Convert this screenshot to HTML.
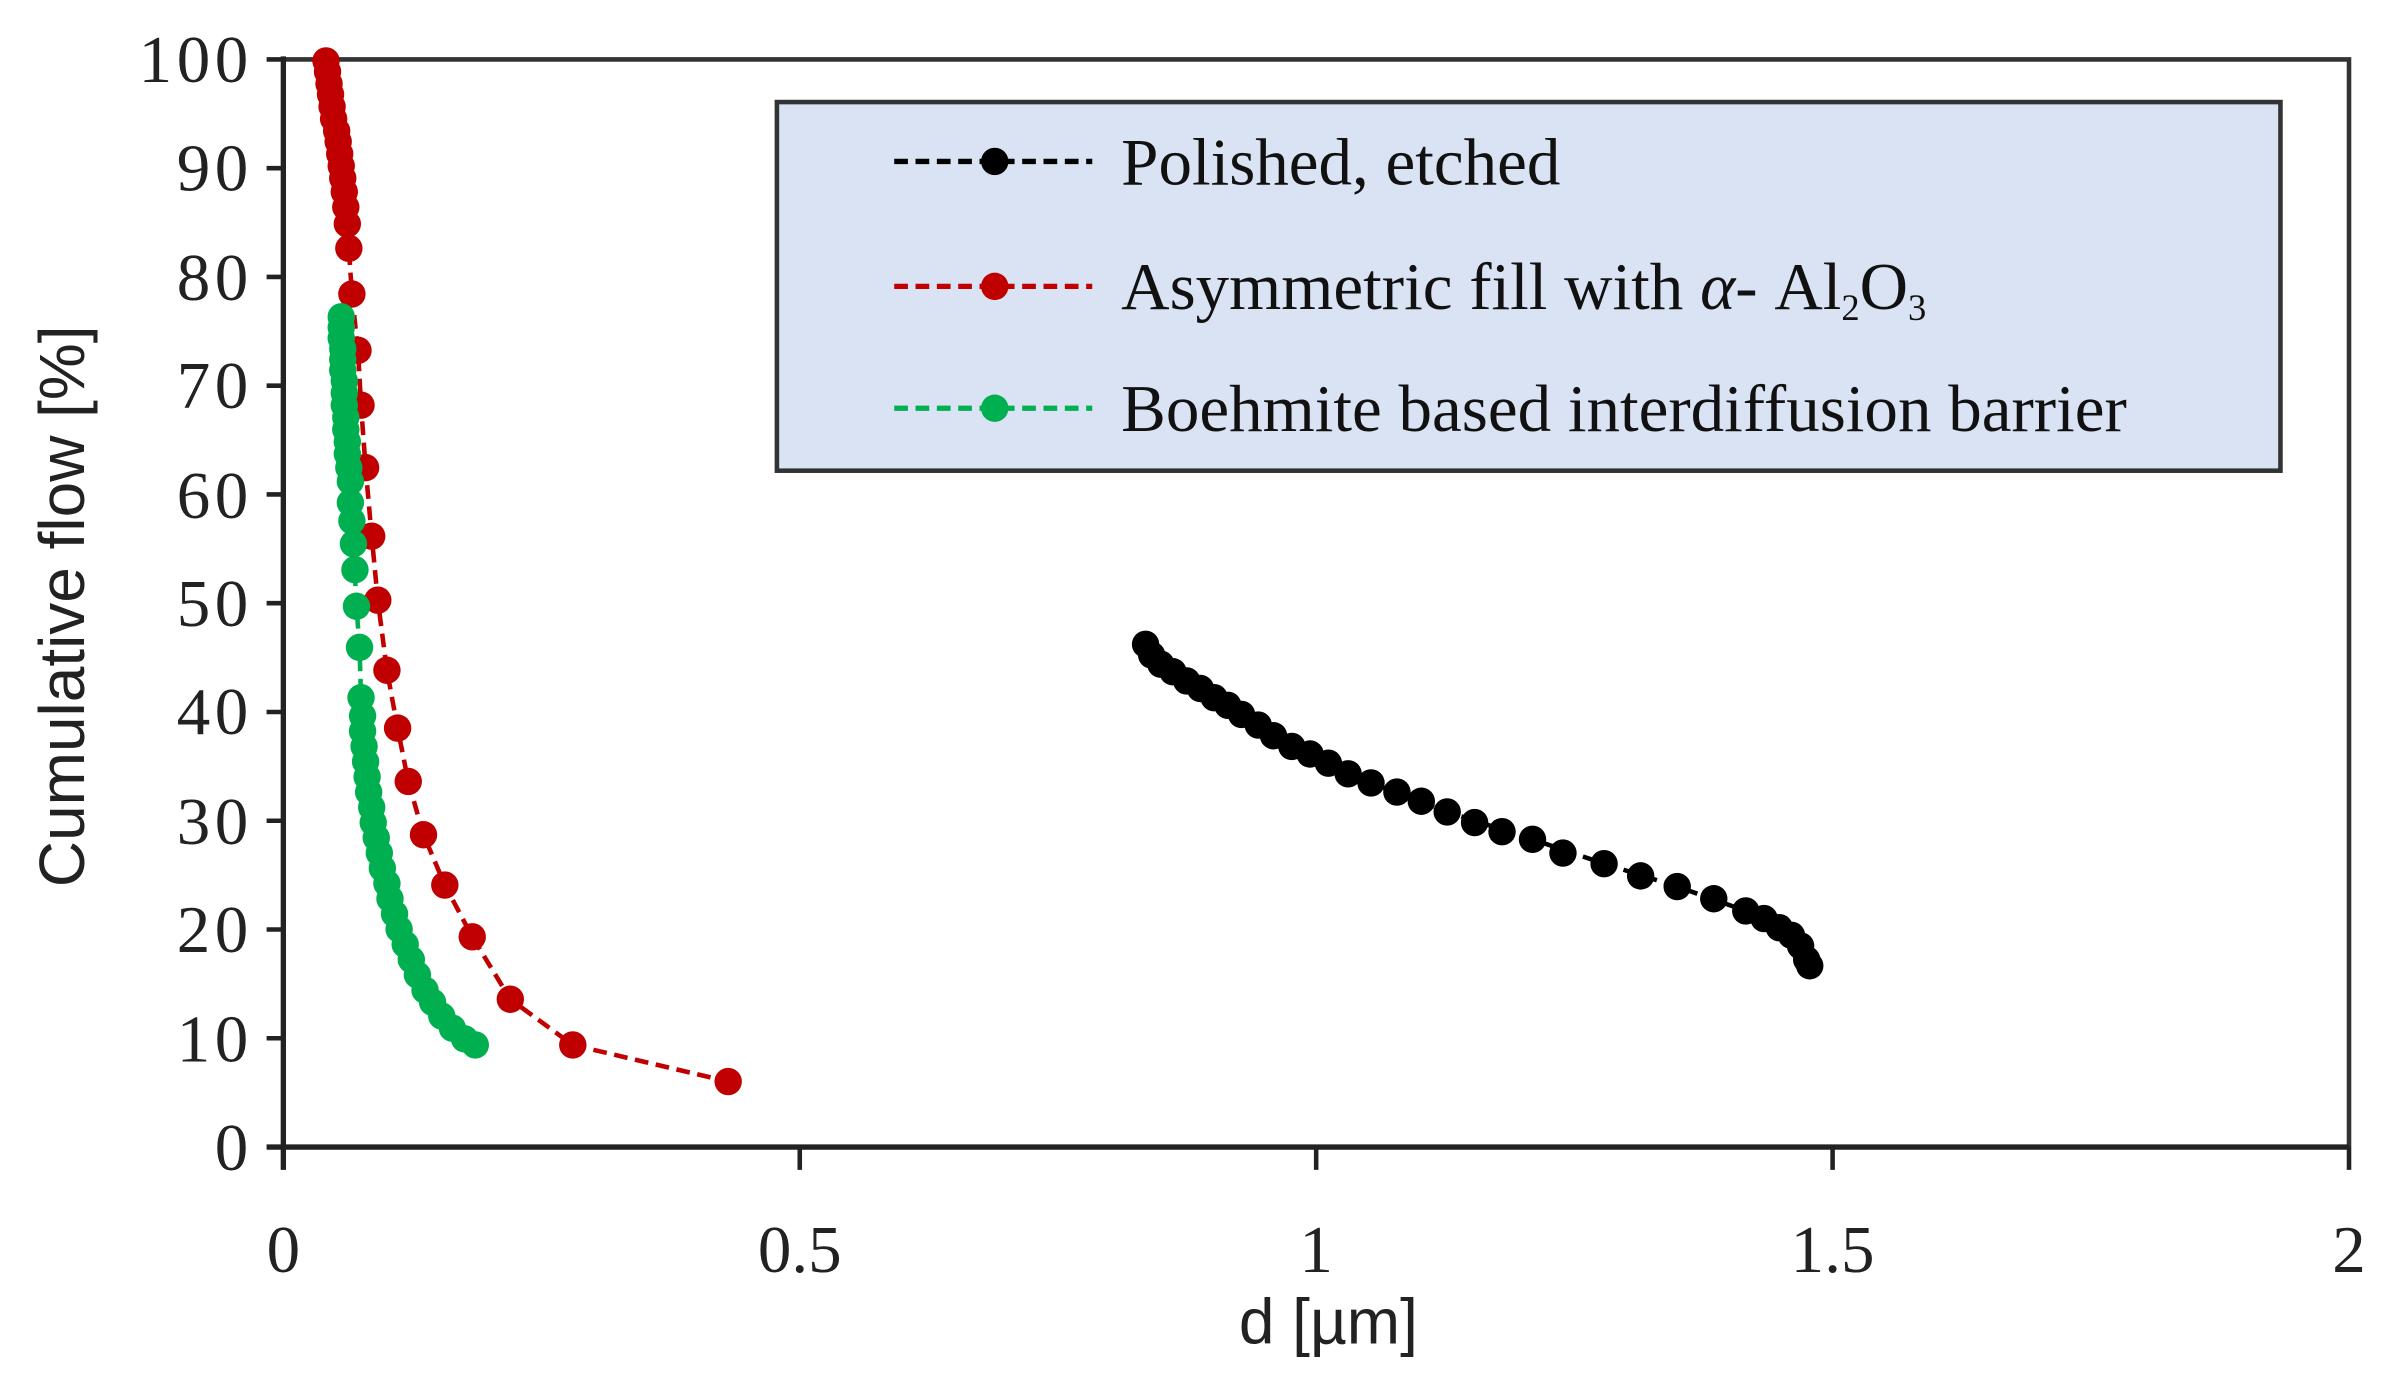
<!DOCTYPE html>
<html><head><style>
html,body{margin:0;padding:0;background:#fff;width:2381px;height:1381px;overflow:hidden}
svg{display:block}
.tk{font-family:"Liberation Serif",serif;font-size:44px;fill:#222}
.lg{font-family:"Liberation Serif",serif;font-size:44px;fill:#111}
.ax{font-family:"Liberation Sans",sans-serif;font-size:42px;fill:#222}
</style></head><body>
<svg width="2381" height="1381" viewBox="0 0 1563 906.6" preserveAspectRatio="none">
<rect x="0" y="0" width="1563" height="907" fill="#fff"/>
<path d="M186 39 H1542 V753" fill="none" stroke="#333" stroke-width="3"/>
<path d="M186 37 V768 M175 753 H1542" fill="none" stroke="#222" stroke-width="3.5"/>
<g stroke="#222" stroke-width="3">
<line x1="175" y1="39" x2="186" y2="39"/><line x1="175" y1="110.4" x2="186" y2="110.4"/>
<line x1="175" y1="181.8" x2="186" y2="181.8"/><line x1="175" y1="253.2" x2="186" y2="253.2"/>
<line x1="175" y1="324.6" x2="186" y2="324.6"/><line x1="175" y1="396" x2="186" y2="396"/>
<line x1="175" y1="467.4" x2="186" y2="467.4"/><line x1="175" y1="538.8" x2="186" y2="538.8"/>
<line x1="175" y1="610.2" x2="186" y2="610.2"/><line x1="175" y1="681.6" x2="186" y2="681.6"/>
<line x1="525" y1="753" x2="525" y2="768"/><line x1="864" y1="753" x2="864" y2="768"/>
<line x1="1203" y1="753" x2="1203" y2="768"/><line x1="1542" y1="753" x2="1542" y2="768"/>
</g>
<g class="tk" text-anchor="end" letter-spacing="3">
<text x="166" y="54">100</text><text x="166" y="125">90</text><text x="166" y="197">80</text>
<text x="166" y="268">70</text><text x="166" y="340">60</text><text x="166" y="411">50</text>
<text x="166" y="482">40</text><text x="166" y="554">30</text><text x="166" y="625">20</text>
<text x="166" y="697">10</text><text x="166" y="768">0</text>
</g>
<g class="tk" text-anchor="middle">
<text x="186" y="835">0</text><text x="525" y="835">0.5</text><text x="864" y="835">1</text>
<text x="1203" y="835">1.5</text><text x="1542" y="835">2</text>
</g>
<text class="ax" x="872" y="882" text-anchor="middle">d [µm]</text>
<text class="ax" transform="translate(55,398) rotate(-90)" text-anchor="middle">Cumulative flow [%]</text>

<g>
<polyline fill="none" stroke="#c00000" stroke-width="3" stroke-dasharray="9 5" points="214,40 215,47 216,55 217,62 218,70 219,78 221,86 222,93 223,101 224,109 225,117 226,126 227,136 228,147 229,163 231,193 235,230 237,266 240,307 244,352 248,394 254,440 261,478 268,513 278,548 292,581 310,615 335,656 376,686 478,710"/>
<g fill="#c00000">
<circle cx="214" cy="40" r="9"/><circle cx="215" cy="47" r="9"/><circle cx="216" cy="55" r="9"/><circle cx="217" cy="62" r="9"/><circle cx="218" cy="70" r="9"/><circle cx="219" cy="78" r="9"/><circle cx="221" cy="86" r="9"/><circle cx="222" cy="93" r="9"/><circle cx="223" cy="101" r="9"/><circle cx="224" cy="109" r="9"/><circle cx="225" cy="117" r="9"/><circle cx="226" cy="126" r="9"/><circle cx="227" cy="136" r="9"/><circle cx="228" cy="147" r="9"/><circle cx="229" cy="163" r="9"/><circle cx="231" cy="193" r="9"/><circle cx="235" cy="230" r="9"/><circle cx="237" cy="266" r="9"/><circle cx="240" cy="307" r="9"/><circle cx="244" cy="352" r="9"/><circle cx="248" cy="394" r="9"/><circle cx="254" cy="440" r="9"/><circle cx="261" cy="478" r="9"/><circle cx="268" cy="513" r="9"/><circle cx="278" cy="548" r="9"/><circle cx="292" cy="581" r="9"/><circle cx="310" cy="615" r="9"/><circle cx="335" cy="656" r="9"/><circle cx="376" cy="686" r="9"/><circle cx="478" cy="710" r="9"/>
</g></g>
<g fill="#00b050">
<polyline fill="none" stroke="#00b050" stroke-width="3" stroke-dasharray="9 5" points="224,208 225,236 226,266 228,298 230,330 232,357 234,398 236,425 237,458 238,480 240,500 242,520 245,540 249,560 254,580 259,600 266,620 274,640 284,658 297,675 312,686"/>
<circle cx="224" cy="208" r="9"/><circle cx="224" cy="215" r="9"/><circle cx="224" cy="222" r="9"/><circle cx="225" cy="229" r="9"/><circle cx="225" cy="236" r="9"/><circle cx="225" cy="243" r="9"/><circle cx="226" cy="250" r="9"/><circle cx="226" cy="258" r="9"/><circle cx="226" cy="266" r="9"/><circle cx="227" cy="274" r="9"/><circle cx="227" cy="282" r="9"/><circle cx="228" cy="290" r="9"/><circle cx="228" cy="298" r="9"/><circle cx="229" cy="307" r="9"/><circle cx="230" cy="316" r="9"/><circle cx="230" cy="330" r="9"/><circle cx="231" cy="342" r="9"/><circle cx="232" cy="357" r="9"/><circle cx="233" cy="374" r="9"/><circle cx="234" cy="398" r="9"/><circle cx="236" cy="425" r="9"/><circle cx="237" cy="458" r="9"/><circle cx="238" cy="470" r="9"/><circle cx="238" cy="480" r="9"/><circle cx="239" cy="490" r="9"/><circle cx="240" cy="500" r="9"/><circle cx="241" cy="510" r="9"/><circle cx="242" cy="520" r="9"/><circle cx="244" cy="530" r="9"/><circle cx="245" cy="540" r="9"/><circle cx="247" cy="550" r="9"/><circle cx="249" cy="560" r="9"/><circle cx="251" cy="570" r="9"/><circle cx="254" cy="580" r="9"/><circle cx="256" cy="590" r="9"/><circle cx="259" cy="600" r="9"/><circle cx="262" cy="610" r="9"/><circle cx="266" cy="620" r="9"/><circle cx="270" cy="630" r="9"/><circle cx="274" cy="640" r="9"/><circle cx="279" cy="650" r="9"/><circle cx="284" cy="658" r="9"/><circle cx="290" cy="667" r="9"/><circle cx="297" cy="675" r="9"/><circle cx="305" cy="682" r="9"/><circle cx="312" cy="686" r="9"/>
</g>
<g fill="#000">
<polyline fill="none" stroke="#000" stroke-width="3" stroke-dasharray="9 5" points="752,423 770,441 797,458 826,476 860,495 900,514 950,533 1006,551 1053,567 1101,582 1146,598 1168,609 1182,621 1188,634"/>
<circle cx="752" cy="423" r="9"/><circle cx="756" cy="430" r="9"/><circle cx="762" cy="436" r="9"/><circle cx="770" cy="441" r="9"/><circle cx="779" cy="447" r="9"/><circle cx="788" cy="452" r="9"/><circle cx="797" cy="458" r="9"/><circle cx="806" cy="463" r="9"/><circle cx="815" cy="469" r="9"/><circle cx="826" cy="476" r="9"/><circle cx="836" cy="483" r="9"/><circle cx="848" cy="490" r="9"/><circle cx="860" cy="495" r="9"/><circle cx="872" cy="501" r="9"/><circle cx="885" cy="508" r="9"/><circle cx="900" cy="514" r="9"/><circle cx="917" cy="520" r="9"/><circle cx="933" cy="526" r="9"/><circle cx="950" cy="533" r="9"/><circle cx="968" cy="540" r="9"/><circle cx="986" cy="546" r="9"/><circle cx="1006" cy="551" r="9"/><circle cx="1026" cy="560" r="9"/><circle cx="1053" cy="567" r="9"/><circle cx="1077" cy="575" r="9"/><circle cx="1101" cy="582" r="9"/><circle cx="1125" cy="590" r="9"/><circle cx="1146" cy="598" r="9"/><circle cx="1158" cy="603" r="9"/><circle cx="1168" cy="609" r="9"/><circle cx="1176" cy="614" r="9"/><circle cx="1182" cy="621" r="9"/><circle cx="1186" cy="630" r="9"/><circle cx="1188" cy="634" r="9"/>
</g>
<rect x="510" y="67" width="987" height="242" fill="#dae3f3" stroke="#333" stroke-width="3"/>
<g stroke-width="3.5" stroke-dasharray="9 5">
<line x1="587" y1="106" x2="717" y2="106" stroke="#000"/>
<line x1="587" y1="188" x2="717" y2="188" stroke="#c00000"/>
<line x1="587" y1="268" x2="717" y2="268" stroke="#00b050"/>
</g>
<circle cx="653" cy="106" r="9" fill="#000"/>
<circle cx="653" cy="188" r="9" fill="#c00000"/>
<circle cx="653" cy="268" r="9" fill="#00b050"/>
<text class="lg" x="736" y="121">Polished, etched</text>
<text class="lg" x="736" y="203">Asymmetric fill with <tspan font-style="italic">α</tspan>- Al<tspan font-size="24" dy="7">2</tspan><tspan dy="-7">O</tspan><tspan font-size="24" dy="7">3</tspan></text>
<text class="lg" x="736" y="283">Boehmite based interdiffusion barrier</text>
</svg>
</body></html>
